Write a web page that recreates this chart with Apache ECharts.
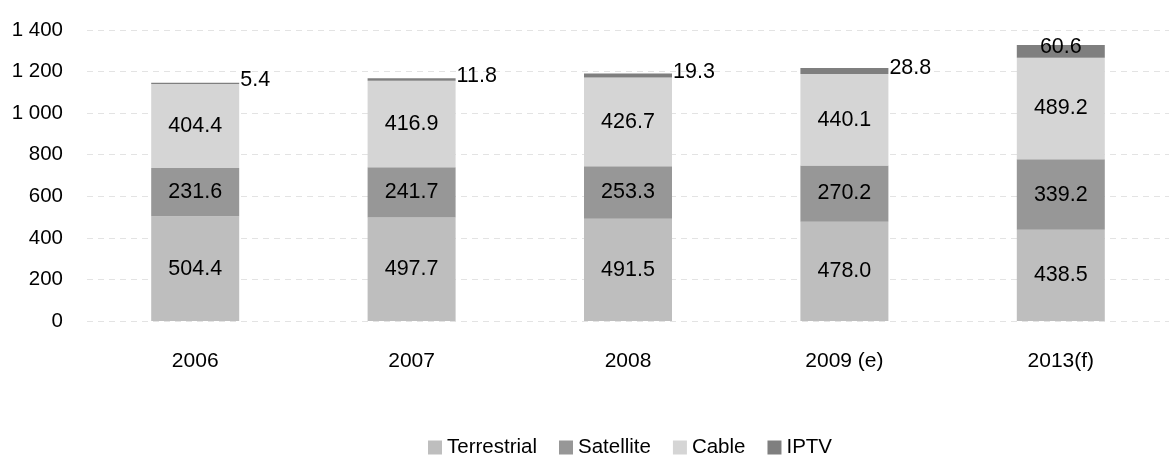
<!DOCTYPE html>
<html>
<head>
<meta charset="utf-8">
<script src="https://cdn.jsdelivr.net/npm/echarts@6/dist/echarts.min.js"></script>
<style>
html,body{margin:0;padding:0;background:#fff;}
#chart{width:1169px;height:457px;}
</style>
</head>
<body>
<div id="chart"></div>
<script>
const categories = ['2006', '2007', '2008', '2009 (e)', '2013(f)'];
const terrestrial = [504.4, 497.7, 491.5, 478.0, 438.5];
const satellite = [231.6, 241.7, 253.3, 270.2, 339.2];
const cable = [404.4, 416.9, 426.7, 440.1, 489.2];
const iptv = [5.4, 11.8, 19.3, 28.8, 60.6];
const seriesNames = ['Terrestrial', 'Satellite', 'Cable', 'IPTV'];

const FONT = '"Liberation Sans", Arial, sans-serif';
const chart = echarts.init(document.getElementById('chart'), null, {renderer: 'canvas'});

const insideLabel = {
  show: true, position: 'inside', color: '#000', fontSize: 21.5, fontFamily: FONT,
  formatter: p => p.value.toFixed(1)
};

const iptvData = iptv.map((v, i) => i === iptv.length - 1
  ? {value: v, label: {position: 'inside', offset: [0, -4]}}
  : v);

chart.setOption({
  animation: false,
  backgroundColor: '#fff',
  textStyle: {fontFamily: FONT},
  grid: {left: 87, right: -22, top: 30, bottom: 136, containLabel: false},
  legend: {
    left: 423, top: 432, itemWidth: 14, itemHeight: 14, itemGap: 22,
    icon: 'rect',
    textStyle: {fontSize: 20.5, color: '#000', fontFamily: FONT},
    data: seriesNames
  },
  xAxis: {
    type: 'category', data: categories,
    axisLine: {show: false}, axisTick: {show: false},
    axisLabel: {fontSize: 21, color: '#000', margin: 30, fontFamily: FONT}
  },
  yAxis: {
    type: 'value', min: 0, max: 1400, interval: 200,
    axisLine: {show: false}, axisTick: {show: false},
    axisLabel: {
      fontSize: 20.5, color: '#000', margin: 24, fontFamily: FONT,
      formatter: v => String(v).replace(/\B(?=(\d{3})+(?!\d))/g, ' ')
    },
    splitLine: {lineStyle: {type: [6, 5], color: '#e3e3e3', width: 1}}
  },
  series: [
    {name: seriesNames[0], type: 'bar', stack: 'a', barWidth: 88, data: terrestrial,
     itemStyle: {color: '#bebebe'}, label: insideLabel},
    {name: seriesNames[1], type: 'bar', stack: 'a', barWidth: 88, data: satellite,
     itemStyle: {color: '#979797'}, label: insideLabel},
    {name: seriesNames[2], type: 'bar', stack: 'a', barWidth: 88, data: cable,
     itemStyle: {color: '#d5d5d5'}, label: insideLabel},
    {name: seriesNames[3], type: 'bar', stack: 'a', barWidth: 88, data: iptvData,
     itemStyle: {color: '#7f7f7f'},
     label: {show: true, position: 'right', distance: 1, offset: [0, -3], color: '#000',
             fontSize: 21.5, fontFamily: FONT, formatter: p => p.value.toFixed(1)}}
  ]
});
</script>
</body>
</html>
